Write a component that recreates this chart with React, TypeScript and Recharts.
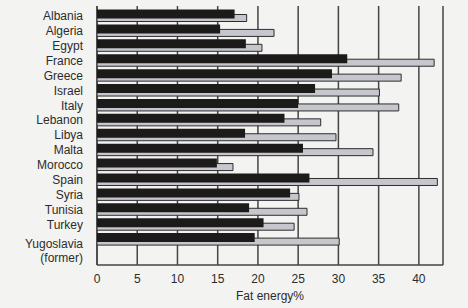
import React from "react";
import {
  Bar,
  BarChart,
  CartesianGrid,
  XAxis,
  YAxis,
} from "recharts";

const countries = [
  "Albania",
  "Algeria",
  "Egypt",
  "France",
  "Greece",
  "Israel",
  "Italy",
  "Lebanon",
  "Libya",
  "Malta",
  "Morocco",
  "Spain",
  "Syria",
  "Tunisia",
  "Turkey",
  "Yugoslavia\n(former)",
];

// dark bar (upper) and light bar (lower) of each country, fat energy %
const earlierValues = [
  17.1, 15.3, 18.5, 31.1, 29.2, 27.1, 25.0, 23.3, 18.4, 25.6, 14.9, 26.4, 24.0,
  18.9, 20.7, 19.6,
];
const laterValues = [
  18.6, 22.0, 20.5, 41.9, 37.8, 35.1, 37.5, 27.8, 29.7, 34.3, 16.9, 42.3, 25.1,
  26.1, 24.5, 30.1,
];

const xTicks = [0, 5, 10, 15, 20, 25, 30, 35, 40];

const data = countries.map((country, i) => ({
  country,
  earlier: earlierValues[i],
  later: laterValues[i],
}));

const FONT = "'Liberation Sans', Arial, sans-serif";
const TEXT = "#2c2c2c";
const LINE = "#454545";

function CountryTick({ x, y, payload }: any) {
  const lines = String(payload.value).split("\n");
  const shift = lines.length > 1 ? 4.5 : 0;
  return (
    <text
      x={x}
      y={y + shift}
      textAnchor="end"
      fill={TEXT}
      fontSize={12}
      fontFamily={FONT}
    >
      {lines.map((line, i) => (
        <tspan key={i} x={x} dy={i === 0 ? "0.35em" : 14}>
          {line}
        </tspan>
      ))}
    </text>
  );
}

export default function App() {
  return (
    <div style={{ width: 468, height: 308, background: "#f3f3f1" }}>
      <style>{"body{margin:0}"}</style>
      <BarChart
        width={468}
        height={308}
        data={data}
        layout="vertical"
        margin={{ top: 6, right: 25, bottom: 0, left: 0 }}
        barGap={-4}
      >
        <CartesianGrid
          horizontal={false}
          stroke={LINE}
          strokeWidth={1.5}
        />
        <XAxis
          type="number"
          domain={[0, 43]}
          ticks={xTicks}
          allowDataOverflow
          height={43}
          tickSize={0}
          tickMargin={9}
          tickLine={false}
          axisLine={{ stroke: LINE, strokeWidth: 1.5 }}
          tick={{ fill: TEXT, fontSize: 12, fontFamily: FONT }}
          label={{
            value: "Fat energy%",
            position: "insideBottom",
            offset: 8,
            fill: TEXT,
            fontSize: 12,
            fontFamily: FONT,
          }}
        />
        <XAxis
          xAxisId="top"
          orientation="top"
          type="number"
          domain={[0, 43]}
          height={0}
          tick={false}
          tickLine={false}
          axisLine={{ stroke: LINE, strokeWidth: 1.5 }}
        />
        <YAxis
          type="category"
          dataKey="country"
          width={97}
          padding={{ top: 2.5, bottom: 18 }}
          tickSize={0}
          tickMargin={14}
          tickLine={false}
          axisLine={{ stroke: LINE, strokeWidth: 1.5 }}
          interval={0}
          tick={<CountryTick />}
        />
        <YAxis
          yAxisId="right"
          orientation="right"
          type="category"
          dataKey="country"
          width={0}
          tick={false}
          tickLine={false}
          axisLine={{ stroke: LINE, strokeWidth: 1.5 }}
        />
        <Bar
          dataKey="earlier"
          barSize={9}
          fill="#1d1a1a"
          zIndex={700}
          isAnimationActive={false}
        />
        <Bar
          dataKey="later"
          barSize={7}
          fill="#c5c7cd"
          stroke="#2e2e2e"
          strokeWidth={1}
          zIndex={600}
          isAnimationActive={false}
        />
      </BarChart>
    </div>
  );
}
